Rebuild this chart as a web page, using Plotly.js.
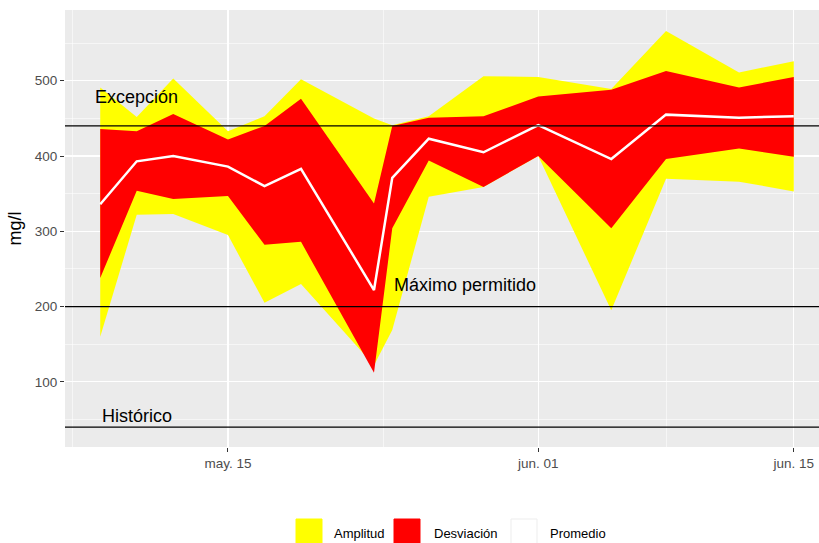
<!DOCTYPE html>
<html>
<head>
<meta charset="utf-8">
<script src="https://cdn.plot.ly/plotly-3.0.1.min.js"></script>
<style>
html,body{margin:0;padding:0;background:#fff;}
#chart{width:819px;height:543px;}
</style>
</head>
<body>
<div id="chart"></div>
<script>
// ---- data ----
const fechas = ['2023-05-08','2023-05-10','2023-05-12','2023-05-15','2023-05-17','2023-05-19',
  '2023-05-23','2023-05-24','2023-05-26','2023-05-29','2023-06-01','2023-06-05',
  '2023-06-08','2023-06-12','2023-06-15'];
const maximo   = [491, 452, 503, 433, 453, 502, 450, 441, 453, 506, 505, 489, 566, 511, 526];
const desvAlta = [436, 433, 456, 422, 440, 476, 337, 440, 451, 453, 479, 488, 513, 491, 505];
const promedio = [336, 393, 400, 386, 360, 383, 222, 371, 423, 405, 441, 396, 455, 451, 453];
const desvBaja = [238, 354, 343, 347, 282, 286, 112, 304, 394, 359, 400, 304, 396, 410, 399];
const minimo   = [160, 322, 323, 295, 205, 230, 122, 169, 346, 359, 400, 195, 370, 366, 353];

const limites = [
  {nombre: 'Excepción', valor: 440, etiquetaX: '2023-05-10', etiquetaY: 479},
  {nombre: 'Máximo permitido', valor: 200, etiquetaX: '2023-05-28', etiquetaY: 229},
  {nombre: 'Histórico', valor: 40, etiquetaX: '2023-05-10', etiquetaY: 55}
];

const xTicks = ['2023-05-15','2023-06-01','2023-06-15'];
const xTickText = ['may. 15','jun. 01','jun. 15'];
const xMinor = ['2023-05-06 12:00','2023-05-23 12:00','2023-06-08'];
const yTicks = [100, 200, 300, 400, 500];

const leyenda = [
  {nombre: 'Amplitud', color: '#FFFF00'},
  {nombre: 'Desviación', color: '#FF0000'},
  {nombre: 'Promedio', color: '#FFFFFF'}
];

// ---- traces ----
const traces = [
  {x: fechas, y: minimo, type: 'scatter', mode: 'lines', line: {width: 0, color: '#FFFF00'},
   showlegend: false, hoverinfo: 'skip'},
  {x: fechas, y: maximo, type: 'scatter', mode: 'lines', line: {width: 0, color: '#FFFF00'},
   fill: 'tonexty', fillcolor: '#FFFF00', showlegend: false, name: 'Amplitud'},
  {x: fechas, y: desvBaja, type: 'scatter', mode: 'lines', line: {width: 0, color: '#FF0000'},
   showlegend: false, hoverinfo: 'skip'},
  {x: fechas, y: desvAlta, type: 'scatter', mode: 'lines', line: {width: 0, color: '#FF0000'},
   fill: 'tonexty', fillcolor: '#FF0000', showlegend: false, name: 'Desviación'},
  {x: fechas, y: promedio, type: 'scatter', mode: 'lines', line: {width: 2.5, color: '#FFFFFF'},
   showlegend: false, name: 'Promedio'}
];

// ---- layout helpers ----
const L = 65, R = 0, T = 10, B = 96, W = 819, H = 543;
const pw = W - L - R, ph = H - T - B;
const px2x = p => (p - L) / pw;
const py2y = p => (H - B - p) / ph;

const shapes = limites.map(l => ({
  type: 'line', xref: 'paper', yref: 'y', x0: 0, x1: 1, y0: l.valor, y1: l.valor,
  line: {color: '#000000', width: 1.2}, layer: 'above'
}));

const annotations = limites.map(l => ({
  x: l.etiquetaX, y: l.etiquetaY, xref: 'x', yref: 'y', text: l.nombre, showarrow: false,
  font: {family: 'Liberation Sans, Arial, sans-serif', size: 18, color: '#000000'},
  xanchor: 'center', yanchor: 'middle'
}));

// legend drawn as key boxes + labels
const keyX = [296, 394, 511];
const labelX = [332, 432, 548];
leyenda.forEach((it, i) => {
  shapes.push({
    type: 'rect', xref: 'paper', yref: 'paper',
    x0: px2x(keyX[i]), x1: px2x(keyX[i] + 26), y0: py2y(545), y1: py2y(519),
    fillcolor: it.color, line: {color: it.color === '#FFFFFF' ? '#EDEDED' : it.color, width: 1},
    layer: 'above'
  });
  annotations.push({
    x: px2x(labelX[i]), y: py2y(533), xref: 'paper', yref: 'paper', text: it.nombre,
    showarrow: false, xanchor: 'left', yanchor: 'middle',
    font: {family: 'Liberation Sans, Arial, sans-serif', size: 13, color: '#000000'}
  });
});

const layout = {
  width: W, height: H,
  margin: {l: L, r: R, t: T, b: B, pad: 0},
  paper_bgcolor: '#FFFFFF',
  plot_bgcolor: '#EBEBEB',
  showlegend: false,
  font: {family: 'Liberation Sans, Arial, sans-serif', color: '#4D4D4D'},
  xaxis: {
    type: 'date',
    range: ['2023-05-06 01:40', '2023-06-16 09:10'],
    tickmode: 'array', tickvals: xTicks, ticktext: xTickText,
    ticks: 'outside', ticklen: 4, tickwidth: 1, tickcolor: '#333333',
    tickfont: {size: 13.5, color: '#4D4D4D'},
    showgrid: true, gridcolor: '#FFFFFF', gridwidth: 1.1,
    minor: {tickmode: 'array', tickvals: xMinor, showgrid: true, gridcolor: '#FFFFFF', gridwidth: 0.55, ticks: ''},
    zeroline: false, showline: false, fixedrange: true
  },
  yaxis: {
    range: [13.5, 594],
    tickmode: 'array', tickvals: yTicks,
    ticks: 'outside', ticklen: 4, tickwidth: 1, tickcolor: '#333333',
    tickfont: {size: 13.5, color: '#4D4D4D'},
    showgrid: true, gridcolor: '#FFFFFF', gridwidth: 1.1,
    minor: {tickmode: 'linear', tick0: 50, dtick: 100, showgrid: true, gridcolor: '#FFFFFF', gridwidth: 0.55, ticks: ''},
    zeroline: false, showline: false, fixedrange: true,
    title: {text: 'mg/l', font: {size: 18, color: '#000000'}, standoff: 8}
  },
  shapes: shapes,
  annotations: annotations
};

Plotly.newPlot('chart', traces, layout, {displayModeBar: false, staticPlot: true});
</script>
</body>
</html>
